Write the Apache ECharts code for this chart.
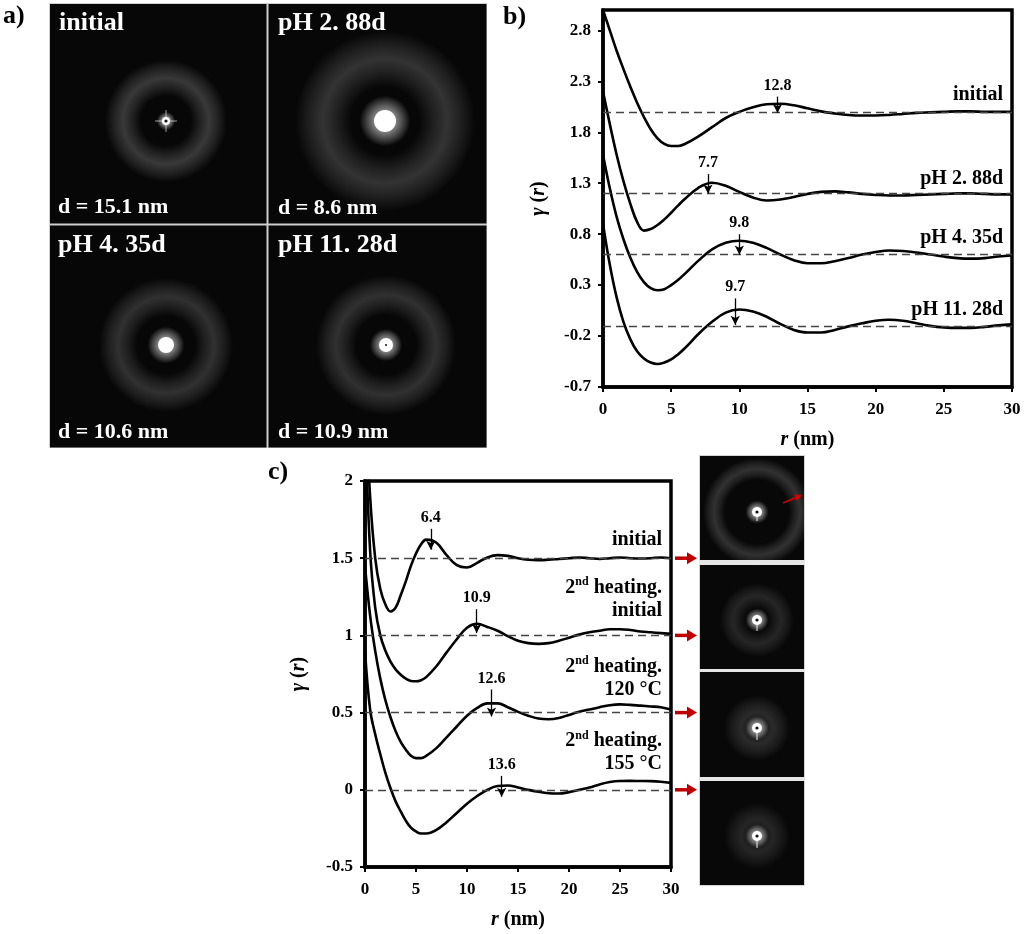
<!DOCTYPE html>
<html>
<head>
<meta charset="utf-8">
<script src="https://cdn.jsdelivr.net/npm/echarts@6/dist/echarts.min.js"></script>
<style>
html, body { margin: 0; padding: 0; background: #fff; }
#main { width: 1024px; height: 934px; }
</style>
</head>
<body>
<div id="main"></div>
<script>
var FONT = 'Liberation Serif';

// r (nm) sample points, shared by every curve
var rValues = [0, 0.5, 1, 1.5, 2, 2.5, 3, 3.5, 4, 4.5, 5, 5.5, 6, 7, 8, 9, 10, 11, 12, 13, 14, 15,
    16, 17, 18, 19, 20, 21, 22, 23, 24, 25, 26, 27, 28, 29, 30];

// panel b) gamma(r)
var bInitial = [3.0, 2.8, 2.6, 2.42, 2.25, 2.09, 1.95, 1.83, 1.74, 1.685, 1.665, 1.665, 1.685, 1.76, 1.85, 1.94, 2.0, 2.045, 2.075, 2.08, 2.065, 2.035,
    2.005, 1.985, 1.97, 1.965, 1.965, 1.97, 1.98, 1.99, 1.995, 2.0, 2.005, 2.005, 2.0, 2.0, 2.0];
var bPH2 = [2.2, 1.88, 1.58, 1.32, 1.1, 0.92, 0.835, 0.85, 0.89, 0.945, 1.01, 1.08, 1.145, 1.255, 1.305, 1.275, 1.215, 1.16, 1.13, 1.14, 1.165, 1.195,
    1.215, 1.22, 1.21, 1.195, 1.185, 1.18, 1.18, 1.185, 1.19, 1.195, 1.2, 1.2, 1.195, 1.19, 1.19];
var bPH4 = [1.58, 1.25, 0.97, 0.75, 0.57, 0.43, 0.33, 0.27, 0.25, 0.26, 0.3, 0.35, 0.41, 0.54, 0.65, 0.715, 0.735, 0.715, 0.665, 0.6, 0.545, 0.515,
    0.515, 0.535, 0.565, 0.6, 0.625, 0.64, 0.635, 0.62, 0.6, 0.58, 0.565, 0.56, 0.565, 0.58, 0.59];
var bPH11 = [0.9, 0.5, 0.18, -0.06, -0.23, -0.35, -0.42, -0.46, -0.475, -0.46, -0.43, -0.38, -0.32, -0.18, -0.06, 0.03, 0.06, 0.04, -0.01, -0.08, -0.14, -0.165,
    -0.165, -0.14, -0.105, -0.075, -0.05, -0.04, -0.05, -0.075, -0.1, -0.115, -0.12, -0.12, -0.11, -0.095, -0.085];

// panel c) gamma(r)
var cInitial = [2.6, 1.9, 1.5, 1.3, 1.2, 1.155, 1.18, 1.26, 1.35, 1.45, 1.53, 1.59, 1.62, 1.6, 1.52, 1.455, 1.44, 1.47, 1.505, 1.52, 1.515, 1.5,
    1.49, 1.487, 1.49, 1.495, 1.5, 1.505, 1.5, 1.495, 1.5, 1.505, 1.5, 1.498, 1.5, 1.505, 1.5];
var cHeatInit = [2.4, 1.55, 1.18, 1.0, 0.9, 0.83, 0.78, 0.745, 0.72, 0.705, 0.703, 0.71, 0.73, 0.8, 0.89, 0.975, 1.05, 1.075, 1.055, 1.03, 0.995, 0.965,
    0.95, 0.945, 0.95, 0.965, 0.985, 1.005, 1.02, 1.03, 1.04, 1.04, 1.035, 1.025, 1.02, 1.015, 1.01];
var cHeat120 = [1.45, 1.13, 0.9, 0.72, 0.58, 0.47, 0.38, 0.31, 0.26, 0.22, 0.205, 0.205, 0.22, 0.27, 0.34, 0.41, 0.48, 0.53, 0.56, 0.56, 0.535, 0.505,
    0.48, 0.462, 0.457, 0.465, 0.485, 0.505, 0.52, 0.535, 0.548, 0.553, 0.55, 0.545, 0.54, 0.535, 0.52];
var cHeat155 = [0.9, 0.52, 0.36, 0.23, 0.11, 0.01, -0.075, -0.14, -0.2, -0.245, -0.27, -0.283, -0.283, -0.26, -0.21, -0.15, -0.09, -0.04, 0.0, 0.025, 0.028, 0.015,
    0.0, -0.013, -0.022, -0.024, -0.015, 0.0, 0.015, 0.035, 0.05, 0.057, 0.058, 0.057, 0.056, 0.052, 0.045];

// dashed baselines
var bBaselines = [2.0, 1.2, 0.6, -0.1];
var cBaselines = [1.5, 1.0, 0.5, 0];

// peak marks: [r, text, arrow top, arrow tip]
var bPeaks = [[12.8, '12.8', 2.15, 1.99], [7.7, '7.7', 1.39, 1.2], [10, '9.8', 0.8, 0.6], [9.7, '9.7', 0.17, -0.09]];
var cPeaks = [[6.45, '6.4', 1.69, 1.555], [10.95, '10.9', 1.17, 1.015], [12.4, '12.6', 0.65, 0.475], [13.4, '13.6', 0.09, -0.045]];

// curve labels at the right edge
var bTags = ['initial', 'pH 2. 88d', 'pH 4. 35d', 'pH 11. 28d'];
var bTagY = [2.17, 1.34, 0.765, 0.06];
var cTags = ['{n|initial}', '{n|2}{s|nd}{n| heating.}\n{n|initial}', '{n|2}{s|nd}{n| heating.}\n{n|120 \u00B0C}', '{n|2}{s|nd}{n| heating.}\n{n|155 \u00B0C}'];
var cTagY = [1.62, 1.235, 0.725, 0.24];

var chart = echarts.init(document.getElementById('main'));

var tagRich = {
    n: { fontFamily: FONT, fontWeight: 'bold', fontSize: 20, color: '#000', lineHeight: 23 },
    s: { fontFamily: FONT, fontWeight: 'bold', fontSize: 12, color: '#000', lineHeight: 23, verticalAlign: 'top', padding: [0, 0, 4, 0] }
};

function makeSeries(idx, ys, base, peak, tag, tagY) {
    return {
        type: 'line',
        xAxisIndex: idx,
        yAxisIndex: idx,
        data: rValues.map(function (r, i) { return [r, ys[i]]; }),
        smooth: 0.4,
        symbol: 'none',
        silent: true,
        lineStyle: { color: '#000', width: 2.6 },
        markLine: {
            silent: true,
            symbol: ['none', 'none'],
            data: [
                { yAxis: base, lineStyle: { type: [8, 5], color: '#444', width: 1.3 }, label: { show: false } },
                [
                    {
                        coord: [peak[0], peak[2]], symbol: 'none',
                        lineStyle: { type: 'solid', color: '#000', width: 1.3 },
                        label: { show: true, position: 'start', distance: 3, formatter: peak[1], color: '#000',
                            fontFamily: FONT, fontWeight: 'bold', fontSize: 16 }
                    },
                    { coord: [peak[0], peak[3]], symbol: 'arrow', symbolSize: [7, 9] }
                ]
            ]
        },
        markPoint: {
            silent: true,
            symbol: 'circle',
            symbolSize: 0,
            data: [{
                coord: [30, tagY],
                label: { show: true, position: 'left', distance: 9, formatter: tag, align: 'right',
                    color: '#000', fontFamily: FONT, fontWeight: 'bold', fontSize: 20, lineHeight: 23, rich: tagRich }
            }]
        }
    };
}

function xAxisOf(idx) {
    return {
        type: 'value', gridIndex: idx, min: 0, max: 30, interval: 5,
        name: '{i|r} (nm)', nameLocation: 'middle', nameGap: 43,
        nameTextStyle: { fontFamily: FONT, fontWeight: 'bold', fontSize: 20, color: '#000',
            rich: { i: { fontFamily: FONT, fontWeight: 'bold', fontStyle: 'italic', fontSize: 20, color: '#000' } } },
        axisLine: { onZero: false, lineStyle: { color: '#000', width: 3.5 } },
        axisTick: { inside: false, length: 5, lineStyle: { color: '#000', width: 2 } },
        axisLabel: { margin: 14, fontFamily: FONT, fontWeight: 'bold', fontSize: 17, color: '#000' },
        splitLine: { show: false }
    };
}

function yAxisOf(idx, min, max, gap) {
    return {
        type: 'value', gridIndex: idx, min: min, max: max, interval: 0.5,
        name: '{i|\u03B3} ({i|r})', nameLocation: 'middle', nameRotate: 90, nameGap: gap,
        nameTextStyle: { fontFamily: FONT, fontWeight: 'bold', fontSize: 20, color: '#000',
            rich: { i: { fontFamily: FONT, fontWeight: 'bold', fontStyle: 'italic', fontSize: 20, color: '#000' } } },
        axisLine: { onZero: false, lineStyle: { color: '#000', width: 3.5 } },
        axisTick: { inside: false, length: 5, lineStyle: { color: '#000', width: 2 } },
        axisLabel: { margin: 12, showMaxLabel: idx === 1, fontFamily: FONT, fontWeight: 'bold', fontSize: 17, color: '#000' },
        splitLine: { show: false }
    };
}

var option = {
    animation: false,
    grid: [
        { left: 603, top: 10, width: 409, height: 377, show: true, borderColor: '#000', borderWidth: 3.5, backgroundColor: 'transparent' },
        { left: 365, top: 481, width: 306, height: 386, show: true, borderColor: '#000', borderWidth: 3.5, backgroundColor: 'transparent' }
    ],
    xAxis: [xAxisOf(0), xAxisOf(1)],
    yAxis: [yAxisOf(0, -0.7, 3.0, 54), yAxisOf(1, -0.5, 2, 56)],
    series: [
        makeSeries(0, bInitial, bBaselines[0], bPeaks[0], bTags[0], bTagY[0]),
        makeSeries(0, bPH2, bBaselines[1], bPeaks[1], bTags[1], bTagY[1]),
        makeSeries(0, bPH4, bBaselines[2], bPeaks[2], bTags[2], bTagY[2]),
        makeSeries(0, bPH11, bBaselines[3], bPeaks[3], bTags[3], bTagY[3]),
        makeSeries(1, cInitial, cBaselines[0], cPeaks[0], cTags[0], cTagY[0]),
        makeSeries(1, cHeatInit, cBaselines[1], cPeaks[1], cTags[1], cTagY[1]),
        makeSeries(1, cHeat120, cBaselines[2], cPeaks[2], cTags[2], cTagY[2]),
        makeSeries(1, cHeat155, cBaselines[3], cPeaks[3], cTags[3], cTagY[3])
    ]
};
chart.setOption(option);

// ---- drawn pictures (scattering patterns), panel letters, red arrows ----
function radial(stops) {
    return { type: 'radial', x: 0.5, y: 0.5, r: 0.5, colorStops: stops };
}
function white(a) { return 'rgba(255,255,255,' + a + ')'; }

function saxs(cx, cy, p) {
    var els = [];
    var R = p.ring + p.width;
    var w = p.width;
    els.push({ type: 'circle', silent: true, shape: { cx: cx, cy: cy, r: R }, style: { fill: radial([
        { offset: 0, color: white(0) },
        { offset: Math.max(0, (p.ring - w) / R), color: white(0) },
        { offset: Math.max(0, (p.ring - w * 0.5) / R), color: white(p.alpha * 0.55) },
        { offset: p.ring / R, color: white(p.alpha) },
        { offset: (p.ring + w * 0.5) / R, color: white(p.alpha * 0.55) },
        { offset: 1, color: white(0) }
    ]) } });
    els.push({ type: 'circle', silent: true, shape: { cx: cx, cy: cy, r: p.core * 2.3 }, style: { fill: radial([
        { offset: 0, color: white(0.9) },
        { offset: 0.42, color: white(0.5) },
        { offset: 1, color: white(0) }
    ]) } });
    if (p.cross) {
        els.push({ type: 'line', silent: true, shape: { x1: cx - p.cross, y1: cy, x2: cx + p.cross, y2: cy }, style: { stroke: white(0.4), lineWidth: 1.5 } });
        els.push({ type: 'line', silent: true, shape: { x1: cx, y1: cy - p.cross, x2: cx, y2: cy + p.cross }, style: { stroke: white(0.4), lineWidth: 1.5 } });
    }
    if (p.streak) {
        els.push({ type: 'line', silent: true, shape: { x1: cx, y1: cy, x2: cx, y2: cy + p.core + p.streak }, style: { stroke: white(0.6), lineWidth: 1.5 } });
    }
    els.push({ type: 'circle', silent: true, shape: { cx: cx, cy: cy, r: p.core }, style: { fill: '#fff' } });
    if (p.hole) {
        els.push({ type: 'circle', silent: true, shape: { cx: cx, cy: cy, r: p.hole }, style: { fill: '#111' } });
    }
    return els;
}

function txt(x, y, s, size, color, align) {
    return { type: 'text', silent: true, x: x, y: y, style: { text: s, fill: color,
        font: 'bold ' + size + 'px "' + FONT + '"', textAlign: align || 'left', textVerticalAlign: 'middle' } };
}

var g = [];
// panel a
g.push({ type: 'rect', silent: true, shape: { x: 49, y: 3, width: 438, height: 445 }, style: { fill: '#cfcfcf' } });
var tiles = [[50, 4, 216.5, 219.5], [268.5, 4, 218, 219.5], [50, 225.5, 216.5, 222], [268.5, 225.5, 218, 222]];
tiles.forEach(function (t) {
    g.push({ type: 'rect', silent: true, shape: { x: t[0], y: t[1], width: t[2], height: t[3] }, style: { fill: '#070707' } });
});
g = g.concat(saxs(166, 121, { ring: 43, width: 18, alpha: 0.2, core: 4, hole: 1.6, cross: 11 }));
g = g.concat(saxs(385, 121, { ring: 62, width: 28, alpha: 0.18, core: 11 }));
g = g.concat(saxs(166, 345, { ring: 48, width: 19, alpha: 0.17, core: 8 }));
g = g.concat(saxs(386, 345, { ring: 50, width: 20, alpha: 0.17, core: 7, hole: 1 }));
g.push(txt(59, 23, 'initial', 26, '#fff'));
g.push(txt(278, 23, 'pH 2. 88d', 26, '#fff'));
g.push(txt(58, 245, 'pH 4. 35d', 26, '#fff'));
g.push(txt(278, 245, 'pH 11. 28d', 26, '#fff'));
g.push(txt(58, 207, 'd = 15.1 nm', 22, '#fff'));
g.push(txt(278, 208, 'd = 8.6 nm', 22, '#fff'));
g.push(txt(58, 432, 'd = 10.6 nm', 22, '#fff'));
g.push(txt(278, 432, 'd = 10.9 nm', 22, '#fff'));

// panel c pictures
g.push({ type: 'rect', silent: true, shape: { x: 699, y: 455, width: 106, height: 431 }, style: { fill: '#d4d4d4' } });
var cTiles = [[700, 456, 104, 104], [700, 565, 104, 104], [700, 672, 104, 105], [700, 781, 104, 104]];
cTiles.forEach(function (t) {
    g.push({ type: 'rect', silent: true, shape: { x: t[0], y: t[1], width: t[2], height: t[3] }, style: { fill: '#080808' } });
});
g = g.concat(saxs(757, 512, { ring: 43, width: 11, alpha: 0.17, core: 5, hole: 1.6, streak: 4 }));
g = g.concat(saxs(757, 620, { ring: 24, width: 13, alpha: 0.12, core: 5, hole: 1.6, streak: 6 }));
g = g.concat(saxs(757, 728, { ring: 16, width: 17, alpha: 0.14, core: 5, hole: 1.6, streak: 7 }));
g = g.concat(saxs(757, 836, { ring: 16, width: 17, alpha: 0.12, core: 5, hole: 1.6, streak: 7 }));
// gaps between pictures on top of any ring overflow
[[699, 560, 106, 5], [699, 669, 106, 3], [699, 777, 106, 4]].forEach(function (t) {
    g.push({ type: 'rect', silent: true, shape: { x: t[0], y: t[1], width: t[2], height: t[3] }, style: { fill: '#e6e6e6' } });
});
// small red arrow in first picture
g.push({ type: 'line', silent: true, shape: { x1: 783, y1: 503, x2: 796, y2: 497.5 }, style: { stroke: '#d40000', lineWidth: 1.8 } });
g.push({ type: 'polygon', silent: true, shape: { points: [[802, 495], [794, 494.5], [797, 501]] }, style: { fill: '#d40000' } });

// panel letters
g.push(txt(3, 16, 'a)', 26, '#000'));
g.push(txt(503, 17, 'b)', 26, '#000'));
g.push(txt(268, 472, 'c)', 26, '#000'));

// red arrows pointing from c baselines to the pictures
cBaselines.forEach(function (b) {
    var p = chart.convertToPixel({ xAxisIndex: 1, yAxisIndex: 1 }, [30, b]);
    var x0 = p[0] + 4, y = p[1];
    g.push({ type: 'line', silent: true, shape: { x1: x0, y1: y, x2: x0 + 14, y2: y }, style: { stroke: '#c00000', lineWidth: 3.5 } });
    g.push({ type: 'polygon', silent: true, shape: { points: [[x0 + 22, y], [x0 + 12, y - 6], [x0 + 12, y + 6]] }, style: { fill: '#c00000' } });
});

chart.setOption({ graphic: { elements: g } });
</script>
</body>
</html>
